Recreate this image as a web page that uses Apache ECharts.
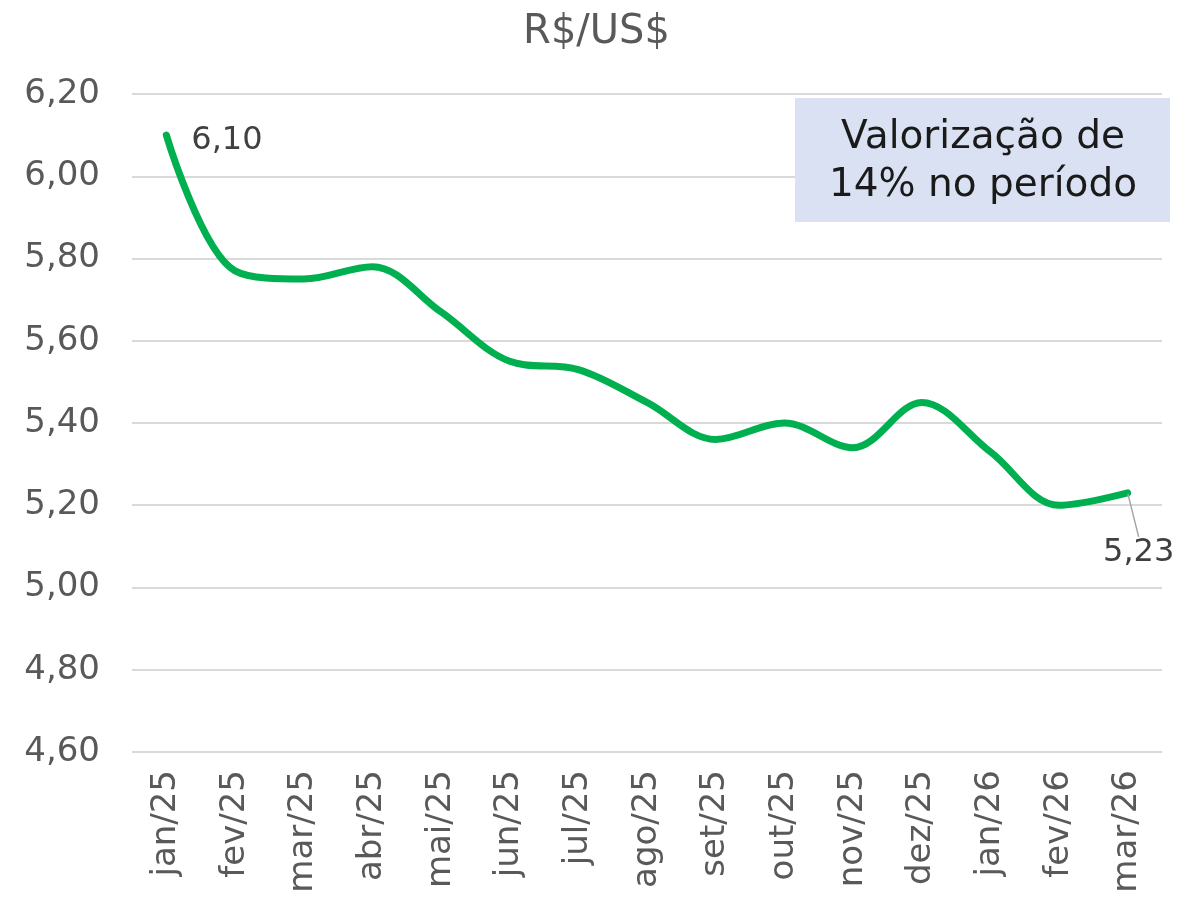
<!DOCTYPE html>
<html>
<head>
<meta charset="utf-8">
<script src="https://cdn.jsdelivr.net/npm/echarts@6/dist/echarts.min.js"></script>
<style>
    html, body { margin: 0; padding: 0; background: #fff; }
    #chart { width: 1193px; height: 910px; }
</style>
</head>
<body>
<div id="chart"></div>
<script>
const months = ['jan/25', 'fev/25', 'mar/25', 'abr/25', 'mai/25', 'jun/25', 'jul/25', 'ago/25',
    'set/25', 'out/25', 'nov/25', 'dez/25', 'jan/26', 'fev/26', 'mar/26']
const rates = [6.10, 5.77, 5.75, 5.78, 5.67, 5.55, 5.53, 5.45, 5.36, 5.40, 5.34, 5.45, 5.33, 5.20, 5.23]
const yTicks = [4.60, 4.80, 5.00, 5.20, 5.40, 5.60, 5.80, 6.00, 6.20]
const titleText = 'R$/US$'
const noteText = 'Valorização de\n14% no período'

const fontFamily = '"DejaVu Sans", sans-serif'
const grey = '#595959'
const fmt = v => v.toFixed(2).replace('.', ',')
const last = rates.length - 1

// only first and last points carry a value label
const seriesData = rates.map((v, i) => {
    if (i === 0) {
        return { value: v, label: { show: true, position: 'right', distance: 24 } }
    }
    if (i === last) {
        return {
            value: v,
            label: { show: true, position: 'inside' },
            labelLine: { show: true, lineStyle: { color: '#A6A6A6', width: 1.5 } }
        }
    }
    return v
})

const chart = echarts.init(document.getElementById('chart'), null, { renderer: 'canvas' })
chart.setOption({
    animation: false,
    title: {
        text: titleText,
        left: 'center',
        top: 8,
        textStyle: { fontFamily: fontFamily, fontSize: 40, fontWeight: 'normal', color: grey }
    },
    grid: { left: 132, right: 31, top: 94, bottom: 158 },
    xAxis: {
        type: 'category',
        data: months,
        boundaryGap: true,
        axisLine: { show: false },
        axisTick: { show: false },
        axisLabel: {
            rotate: 90,
            margin: 18,
            interval: 0,
            fontFamily: fontFamily,
            fontSize: 34,
            color: grey
        }
    },
    yAxis: {
        type: 'value',
        min: yTicks[0],
        max: yTicks[yTicks.length - 1],
        interval: 0.2,
        axisLine: { show: false },
        axisTick: { show: false },
        splitLine: { lineStyle: { color: '#D9D9D9', width: 2 } },
        axisLabel: {
            margin: 32,
            fontFamily: fontFamily,
            fontSize: 34,
            color: grey,
            formatter: v => fmt(v)
        }
    },
    series: [{
        type: 'line',
        data: seriesData,
        smooth: 0.35,
        smoothConstraint: false,
        symbol: 'circle',
        symbolSize: 2,
        itemStyle: { color: '#00B050' },
        lineStyle: { color: '#00B050', width: 7, cap: 'round' },
        label: {
            show: false,
            fontFamily: fontFamily,
            fontSize: 32,
            color: '#404040',
            formatter: p => fmt(p.value)
        },
        labelLayout: p => {
            if (p.dataIndex === last) return { dx: 11, dy: 60 }
            if (p.dataIndex === 0) return { dy: 6 }
            return {}
        }
    }],
    graphic: [{
        type: 'rect',
        left: 795,
        top: 98,
        z: 100,
        shape: { width: 375, height: 124 },
        style: { fill: '#D9E1F2' }
    }, {
        type: 'text',
        x: 983,
        y: 162,
        z: 101,
        style: {
            text: noteText,
            fontFamily: fontFamily,
            fontSize: 39,
            lineHeight: 48,
            fill: '#1a1a1a',
            align: 'center',
            verticalAlign: 'middle'
        }
    }]
})
</script>
</body>
</html>
